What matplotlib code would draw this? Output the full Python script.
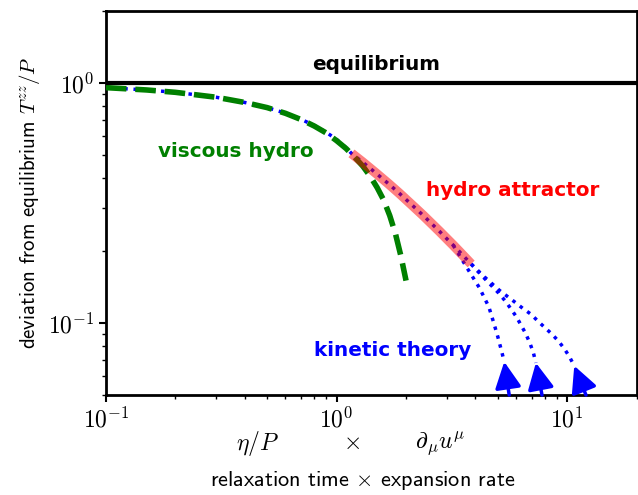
"""Hydro attractor sketch: log-log deviation from equilibrium."""

import matplotlib
matplotlib.use("Agg")
import matplotlib.pyplot as plt
from matplotlib.ticker import FuncFormatter
import numpy as np

# values
hydro_x = [0.1, 0.15, 0.2, 0.3, 0.4, 0.5, 0.6, 0.7, 0.8, 0.9, 1.0, 1.1,
           1.2, 1.3, 1.4, 1.5, 1.6, 1.7, 1.8, 1.9, 2.0]
hydro_y = [0.957, 0.936, 0.915, 0.873, 0.83, 0.79, 0.748, 0.705, 0.662, 0.62,
           0.575, 0.533, 0.49, 0.45, 0.408, 0.366, 0.325, 0.28, 0.235, 0.19, 0.15]

attr_x = [0.1, 0.15, 0.2, 0.3, 0.4, 0.5, 0.6, 0.7, 0.8, 0.9, 1.0, 1.1,
          1.16, 1.3, 1.49, 1.68, 1.87, 2.1, 2.36, 2.79, 3.0, 3.2, 3.41, 3.83]
attr_y = [0.957, 0.936, 0.915, 0.873, 0.83, 0.79, 0.749, 0.707, 0.665, 0.624,
          0.582, 0.537, 0.509, 0.467, 0.419, 0.38, 0.347, 0.313, 0.282, 0.241,
          0.2246, 0.211, 0.198, 0.176]
band_start = 1.15   # red band covers the attractor from here on

kin1_x = [3.2, 3.77, 4.16, 4.57, 4.8, 5.0, 5.2, 5.33]
kin1_y = [0.211, 0.163, 0.14, 0.1166, 0.1, 0.0874, 0.0757, 0.0688]
kin2_x = [3.83, 4.08, 4.44, 5.03, 5.42, 6.02, 6.58, 6.88, 7.13, 7.31]
kin2_y = [0.176, 0.1645, 0.151, 0.1334, 0.1224, 0.1059, 0.0908, 0.0825, 0.075, 0.0681]
kin3_x = [3.83, 4.42, 5.08, 5.9, 6.4, 6.97, 7.44, 7.95, 8.55, 9.14, 9.71, 10.2, 10.72]
kin3_y = [0.176, 0.154, 0.1366, 0.1224, 0.1151, 0.1085, 0.1019, 0.096, 0.09,
          0.0841, 0.078, 0.0724, 0.0662]

# arrows: tail on the bottom spine, head pointing back up to the curve
arrow_tail_x = [5.6, 7.77, 12.05]
arrow_head_x = [5.33, 7.31, 10.72]
arrow_head_y = [0.0688, 0.0681, 0.0662]

GREEN = "#008000"
BLUE = "#0000ff"
RED = "#ff0000"

plt.rcParams["font.family"] = ["cmss10", "DejaVu Sans"]
plt.rcParams["mathtext.fontset"] = "cm"
plt.rcParams["axes.unicode_minus"] = False

fig = plt.figure(figsize=(6.38, 4.95), dpi=100)
ax = fig.add_axes([0.166, 0.202, 0.832, 0.776])
ax.set_xscale("log")
ax.set_yscale("log")
ax.set_xlim(0.1, 20)
ax.set_ylim(0.05, 2)

ax.axhline(1.0, color="k", lw=3, zorder=5)

ax.plot(attr_x, attr_y, ":", color=BLUE, lw=2.5, zorder=2)
ax.plot(hydro_x, hydro_y, "--", color=GREEN, lw=4, zorder=3)
bx = [x for x in attr_x if x >= band_start]
by = [y for x, y in zip(attr_x, attr_y) if x >= band_start]
ax.plot(bx, by, color=RED, lw=7, alpha=0.5, solid_capstyle="butt", zorder=4)

for kx, ky in [(kin1_x, kin1_y), (kin2_x, kin2_y), (kin3_x, kin3_y)]:
    ax.plot(kx, ky, ":", color=BLUE, lw=2.5, zorder=2)

for tx, hx, hy in zip(arrow_tail_x, arrow_head_x, arrow_head_y):
    ax.annotate("", xy=(hx, hy), xytext=(tx, 0.05),
                arrowprops=dict(arrowstyle="-|>,head_length=0.8,head_width=0.4",
                                color=BLUE, lw=2.5, shrinkA=0, shrinkB=0,
                                mutation_scale=20))

lab = dict(fontsize=14.4, fontweight="bold", family="DejaVu Sans",
           ha="center", va="center")
ax.text(1.49, 1.195, "equilibrium", color="k", **lab)
ax.text(0.366, 0.517, "viscous hydro", color=GREEN, **lab)
ax.text(5.78, 0.358, "hydro attractor", color=RED, **lab)
ax.text(1.746, 0.0764, "kinetic theory", color=BLUE, **lab)

ax.set_ylabel("deviation from equilibrium $T^{zz}/P$", fontsize=15, labelpad=4)

# two-line x label, first line split into the pieces
ax.text(0.286, -0.125, r"$\eta/P$", transform=ax.transAxes, fontsize=17,
        ha="center", va="center")
ax.text(0.463, -0.125, r"$\times$", transform=ax.transAxes, fontsize=17,
        ha="center", va="center")
ax.text(0.629, -0.125, r"$\partial_\mu u^\mu$", transform=ax.transAxes,
        fontsize=17, ha="center", va="center")
ax.text(0.484, -0.222, r"relaxation time $\times$ expansion rate",
        transform=ax.transAxes, fontsize=16, ha="center", va="center")

fmt = FuncFormatter(lambda v, _: r"$10^{%d}$" % int(round(np.log10(v))))
ax.xaxis.set_major_formatter(fmt)
ax.yaxis.set_major_formatter(fmt)
ax.tick_params(which="major", labelsize=17, width=1.5, length=5)
ax.tick_params(which="minor", width=1.0, length=3)
for s in ax.spines.values():
    s.set_linewidth(2)

fig.savefig("out.png", dpi=100)
